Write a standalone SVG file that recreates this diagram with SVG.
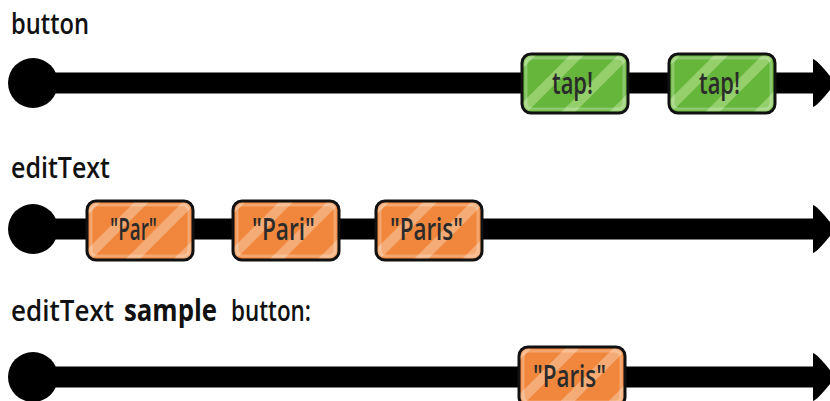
<svg xmlns="http://www.w3.org/2000/svg" width="830" height="401" viewBox="0 0 830 401">
<style>
.lbl{font-family:"Open Sans","Lato",sans-serif;font-size:29px;font-weight:600;fill:#111;}
.big{font-size:30px;font-weight:700;}
.val{font-family:"Open Sans","Lato",sans-serif;font-size:31px;font-weight:600;fill:#2b2b2b;}
.tl{stroke:#000;stroke-width:21;fill:none;}
.box{stroke:#111;stroke-width:3;}
.g{fill:url(#pg);}
.o{fill:url(#po);}
.hl{fill:none;stroke:#fff;stroke-opacity:0.25;stroke-width:3;}
</style>
<defs>
<pattern id="pg" patternUnits="userSpaceOnUse" width="34" height="34" patternTransform="rotate(45)">
<rect width="34" height="34" fill="#65b63b"/>
<rect x="0" width="10" height="34" fill="#94cf6c"/>
</pattern>
<pattern id="po" patternUnits="userSpaceOnUse" width="34" height="34" patternTransform="rotate(45)">
<rect width="34" height="34" fill="#f0873d"/>
<rect x="0" width="10" height="34" fill="#f5ab75"/>
</pattern>
</defs>
<g id="labels">
<text class="lbl" x="11" y="34" textLength="78" lengthAdjust="spacingAndGlyphs">button</text>
<text class="lbl" x="11" y="178" textLength="99" lengthAdjust="spacingAndGlyphs">editText</text>
<text class="lbl" x="11" y="321" textLength="103" lengthAdjust="spacingAndGlyphs">editText</text>
<text class="lbl big" x="124" y="321" textLength="93" lengthAdjust="spacingAndGlyphs">sample</text>
<text class="lbl" x="231" y="321" textLength="80" lengthAdjust="spacingAndGlyphs">button:</text>
</g>
<g id="connectors">
<g id="timeline-button">
<line class="tl" x1="33" y1="83" x2="818" y2="83"/>
<circle cx="33" cy="83" r="25" fill="#000"/>
<path d="M813,59 Q817,60 830,76 L830,90 Q817,106 813,107 Z" fill="#000"/>
</g>
<g id="timeline-editText">
<line class="tl" x1="33" y1="229" x2="818" y2="229"/>
<circle cx="33" cy="229" r="25" fill="#000"/>
<path d="M813,205 Q817,206 830,222 L830,236 Q817,252 813,253 Z" fill="#000"/>
</g>
<g id="timeline-sample">
<line class="tl" x1="33" y1="377" x2="818" y2="377"/>
<circle cx="33" cy="377" r="25" fill="#000"/>
<path d="M813,353 Q817,354 830,370 L830,384 Q817,400 813,401 Z" fill="#000"/>
</g>
</g>
<g id="node-tap1">
<rect class="box g" x="522" y="54" width="106" height="59" rx="9"/>
<rect class="hl" x="526" y="58" width="98" height="51" rx="6"/>
<text class="val" x="552" y="94" textLength="41" lengthAdjust="spacingAndGlyphs">tap!</text>
</g>
<g id="node-tap2">
<rect class="box g" x="669" y="54" width="106" height="59" rx="9"/>
<rect class="hl" x="673" y="58" width="98" height="51" rx="6"/>
<text class="val" x="699" y="94" textLength="41" lengthAdjust="spacingAndGlyphs">tap!</text>
</g>
<g id="node-par">
<rect class="box o" x="87" y="201" width="106" height="59" rx="9"/>
<rect class="hl" x="91" y="205" width="98" height="51" rx="6"/>
<text class="val" x="110" y="240" textLength="47" lengthAdjust="spacingAndGlyphs">"Par"</text>
</g>
<g id="node-pari">
<rect class="box o" x="233" y="201" width="106" height="59" rx="9"/>
<rect class="hl" x="237" y="205" width="98" height="51" rx="6"/>
<text class="val" x="252" y="240" textLength="63" lengthAdjust="spacingAndGlyphs">"Pari"</text>
</g>
<g id="node-paris">
<rect class="box o" x="376" y="201" width="106" height="59" rx="9"/>
<rect class="hl" x="380" y="205" width="98" height="51" rx="6"/>
<text class="val" x="390" y="240" textLength="73" lengthAdjust="spacingAndGlyphs">"Paris"</text>
</g>
<g id="node-paris-sampled">
<rect class="box o" x="519" y="347" width="106" height="59" rx="9"/>
<rect class="hl" x="523" y="351" width="98" height="51" rx="6"/>
<text class="val" x="533" y="387" textLength="73" lengthAdjust="spacingAndGlyphs">"Paris"</text>
</g>
</svg>
